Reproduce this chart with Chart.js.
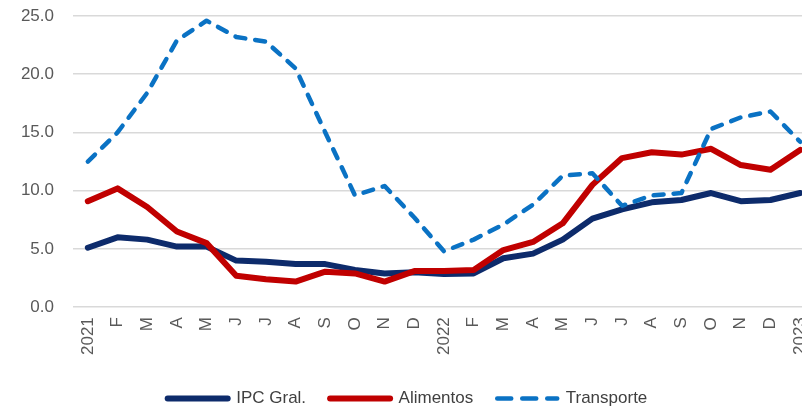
<!DOCTYPE html>
<html>
<head>
<meta charset="utf-8">
<script src="https://cdn.jsdelivr.net/npm/chart.js@4"></script>
<style>
  html, body { margin: 0; padding: 0; background: #fff; overflow: hidden; }
  #wrap { width: 802px; height: 409px; overflow: hidden; }
  #box { width: 850px; height: 409px; }
</style>
</head>
<body>
<div id="wrap"><div id="box"><canvas id="myChart"></canvas></div></div>
<script>
// meses (ene 2021 - ene 2023)
const meses = ["2021","F","M","A","M","J","J","A","S","O","N","D","2022","F","M","A","M","J","J","A","S","O","N","D","2023"];
const ipcGral = [5.1,6.0,5.8,5.2,5.2,4.0,3.9,3.7,3.7,3.2,2.9,3.0,2.85,2.9,4.2,4.6,5.8,7.6,8.4,9.0,9.2,9.8,9.1,9.2,9.8];
const alimentos = [9.1,10.2,8.6,6.5,5.5,2.7,2.4,2.2,3.05,2.9,2.2,3.1,3.1,3.2,4.9,5.6,7.2,10.5,12.8,13.3,13.1,13.6,12.2,11.8,13.5];
const transporte = [12.5,15.0,18.4,22.9,24.6,23.2,22.8,20.5,15.0,9.6,10.4,7.7,4.8,5.8,7.1,8.8,11.3,11.5,8.7,9.6,9.8,15.3,16.3,16.8,14.2];
const yTicks = [0,5,10,15,20,25];

const gris = "#595959";

new Chart("myChart", {
  type: "line",
  data: {
    labels: meses,
    datasets: [
      { label: "IPC Gral.", data: ipcGral, borderColor: "#0d2b6b", backgroundColor: "#0d2b6b",
        borderWidth: 6, order: 3 },
      { label: "Alimentos", data: alimentos, borderColor: "#c00000", backgroundColor: "#c00000",
        borderWidth: 6, order: 2 },
      { label: "Transporte", data: transporte, borderColor: "#0a72c4", backgroundColor: "#0a72c4",
        borderWidth: 4.5, borderDash: [10, 10], order: 1 }
    ]
  },
  options: {
    responsive: true,
    maintainAspectRatio: false,
    animation: false,
    datasets: { line: { tension: 0, pointRadius: 0, borderCapStyle: "round", borderJoinStyle: "round" } },
    layout: { padding: { top: 16, right: 35, left: 0, bottom: -8 } },
    plugins: {
      tooltip: { enabled: false },
      legend: {
        position: "bottom",
        labels: {
          usePointStyle: true,
          pointStyle: "line",
          pointStyleWidth: 60,
          boxHeight: 6,
          padding: 24,
          color: "#404040",
          font: { family: "Liberation Sans", size: 17 },
          sort: (a, b) => a.datasetIndex - b.datasetIndex,
          generateLabels: (chart) => {
            const items = Chart.defaults.plugins.legend.labels.generateLabels(chart);
            items.forEach(it => {
              const ds = chart.data.datasets[it.datasetIndex];
              it.lineWidth = ds.borderWidth;
              it.lineDash = ds.borderDash ? [14, 11] : [];
              it.lineCap = "round";
              it.strokeStyle = ds.borderColor;
            });
            return items;
          }
        }
      }
    },
    scales: {
      x: {
        offset: true,
        afterFit: (s) => { s.height += 1; },
        grid: { display: false, drawTicks: false },
        border: { display: false },
        ticks: { color: gris, minRotation: 90, maxRotation: 90, autoSkip: false, padding: 10,
                 font: { family: "Liberation Sans", size: 17 } }
      },
      y: {
        min: 0, max: 25,
        afterBuildTicks: (s) => { s.ticks = yTicks.map(v => ({ value: v })); },
        afterFit: (s) => { s.width = 73; s.paddingTop = 0; },
        grid: { color: "#d9d9d9", lineWidth: 1.5, drawTicks: false },
        border: { display: false },
        ticks: { color: gris, padding: 19, font: { family: "Liberation Sans", size: 17 },
                 callback: (v) => v.toFixed(1) }
      }
    }
  }
});
</script>
</body>
</html>
